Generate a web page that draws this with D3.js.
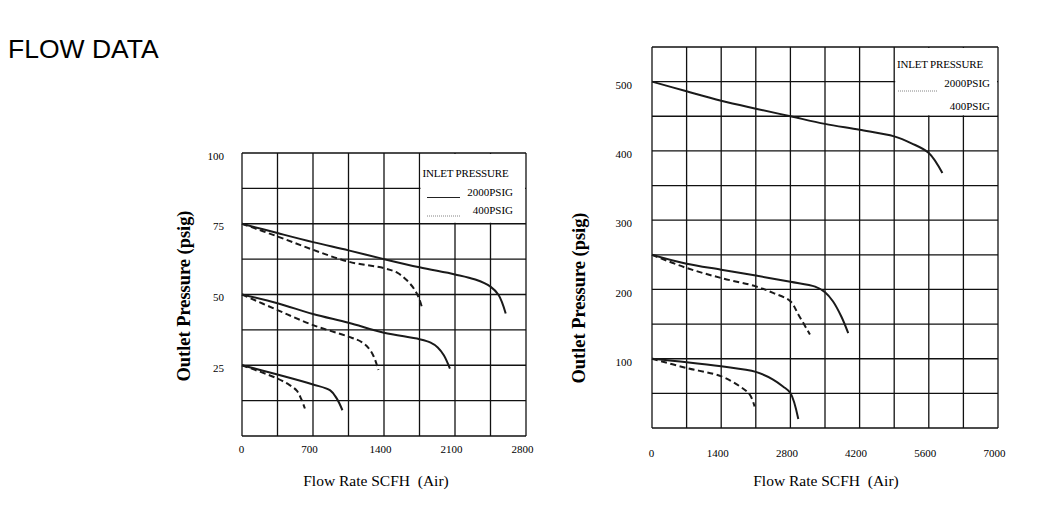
<!DOCTYPE html>
<html>
<head>
<meta charset="utf-8">
<script src="https://cdn.jsdelivr.net/npm/d3@7"></script>
<style>
  html, body { margin: 0; padding: 0; background: #fff; }
  svg { display: block; }
  text { font-family: "Liberation Serif", "Times New Roman", serif; fill: #000; }
</style>
</head>
<body>
<svg id="chart" width="1051" height="523"></svg>
<script>
// ---------- DATA ----------
const title = "FLOW DATA";
const yTitle = "Outlet Pressure (psig)";
const xTitle = "Flow Rate SCFH  (Air)";

// Left chart (low pressure)
const leftXTicks = [0, 700, 1400, 2100, 2800];
const leftYTicks = [25, 50, 75, 100];
const leftSolid75 = [[0,75],[350,71.7],[700,68.5],[1050,65.6],[1400,62.5],[1750,59.6],[2100,57.1],[2300,55.3],[2450,52.8],[2530,49.8],[2600,43.3]];
const leftDashed75 = [[0,75],[350,70.5],[700,65.8],[1050,61.6],[1400,59.3],[1530,57.7],[1620,55.2],[1700,51.8],[1750,48.2],[1780,44.7]];
const leftSolid50 = [[0,50],[350,46.9],[700,43.1],[1050,40],[1400,36.5],[1750,34.2],[1860,33],[1930,31.3],[1990,28.5],[2050,23.8]];
const leftDashed50 = [[0,50],[350,44.5],[700,39.2],[1050,35.1],[1180,33.2],[1250,31],[1300,28],[1345,23.3]];
const leftSolid25 = [[0,25],[350,21.7],[700,18.2],[870,16.1],[935,13.2],[990,9.1]];
const leftDashed25 = [[0,25],[350,20.3],[470,18],[540,16],[585,13],[620,9.7]];

// Right chart (high pressure)
const rightXTicks = [0, 1400, 2800, 4200, 5600, 7000];
const rightYTicks = [100, 200, 300, 400, 500];
const rightSolid500 = [[0,500],[700,486],[1400,472.5],[2100,461],[2800,450],[3500,439],[4200,430.5],[4900,421],[5250,411],[5600,397],[5875,368]];
const rightSolid250 = [[0,250],[700,237],[1400,228.5],[2100,220],[2800,211],[3300,204],[3500,196],[3660,183],[3830,161],[3970,137]];
const rightDashed250 = [[0,250],[700,231],[1400,216.5],[2100,204.5],[2450,195],[2800,183],[2960,164],[3195,135]];
const rightSolid100 = [[0,100],[700,95],[1400,89],[2100,81],[2450,70],[2650,60],[2800,50.5],[2960,13]];
const rightDashed100 = [[0,100],[700,86.6],[1400,74.6],[1780,60],[1980,48],[2075,31]];

const legendHeader = "INLET PRESSURE";
const legendHigh = "2000PSIG";
const legendLow = "400PSIG";

// ---------- DRAW ----------
const svg = d3.select("#chart");

svg.append("text")
  .attr("x", 8).attr("y", 57.5)
  .style("font-family", "'Liberation Sans', Arial, sans-serif")
  .style("font-size", "26.5px")
  .text(title);

function drawChart(cfg) {
  const x = d3.scaleLinear().domain(cfg.xDomain).range(cfg.xRange);
  const y = d3.scaleLinear().domain(cfg.yDomain).range(cfg.yRange);
  const g = svg.append("g");

  const gridColor = "#111";
  g.selectAll(".vg").data(cfg.xGrid).join("line")
    .attr("x1", d => x(d)).attr("x2", d => x(d))
    .attr("y1", y(cfg.yDomain[0])).attr("y2", y(cfg.yDomain[1]))
    .attr("stroke", gridColor).attr("stroke-width", 1.3);
  g.selectAll(".hg").data(cfg.yGrid).join("line")
    .attr("x1", x(cfg.xDomain[0])).attr("x2", x(cfg.xDomain[1]))
    .attr("y1", d => y(d)).attr("y2", d => y(d))
    .attr("stroke", gridColor).attr("stroke-width", 1.3);

  const bx0 = x(cfg.legendBox[0]), bx1 = x(cfg.legendBox[1]);
  const by0 = y(cfg.legendBox[3]), by1 = y(cfg.legendBox[2]);
  g.append("rect")
    .attr("x", bx0 + 1).attr("y", by0 + 1)
    .attr("width", bx1 - bx0 - 2).attr("height", by1 - by0 - 2)
    .attr("fill", "#fff");

  const xAxis = d3.axisBottom(x).tickValues(cfg.xTicks).tickSize(0).tickPadding(0)
    .tickFormat(d3.format("d"));
  const xa = g.append("g").attr("transform", `translate(0,${cfg.xLabelY})`).call(xAxis);
  xa.select(".domain").remove();
  xa.selectAll("text")
    .attr("dy", 0).attr("y", 0)
    .attr("dx", d => d === 0 ? -1 : -4)
    .style("font-family", "'Liberation Serif', 'Times New Roman', serif")
    .style("font-size", "11px").attr("fill", "#000");

  const yAxis = d3.axisLeft(y).tickValues(cfg.yTicks).tickSize(0).tickPadding(0)
    .tickFormat(d3.format("d"));
  const ya = g.append("g").attr("transform", `translate(${cfg.yLabelX},0)`).call(yAxis);
  ya.select(".domain").remove();
  ya.selectAll("text")
    .attr("x", 0).attr("dy", cfg.yLabelDy)
    .style("font-family", "'Liberation Serif', 'Times New Roman', serif")
    .style("font-size", "11px").attr("fill", "#000");

  const line = d3.line().x(d => x(d[0])).y(d => y(d[1])).curve(d3.curveCatmullRom.alpha(0.5));
  cfg.series.forEach(s => {
    g.append("path")
      .datum(s.data)
      .attr("d", line)
      .attr("fill", "none")
      .attr("stroke", "#1a1a1a")
      .attr("stroke-width", 2)
      .attr("stroke-dasharray", s.dashed ? "6,3.5" : null);
  });

  g.append("text")
    .attr("transform", `translate(${cfg.yTitlePos[0]},${cfg.yTitlePos[1]}) rotate(-90)`)
    .attr("text-anchor", "middle")
    .style("font-weight", "bold")
    .style("font-size", "18.4px")
    .text(yTitle);
  g.append("text")
    .attr("x", cfg.xTitlePos[0]).attr("y", cfg.xTitlePos[1])
    .attr("text-anchor", "middle")
    .style("font-size", "15.5px")
    .style("white-space", "pre")
    .attr("xml:space", "preserve")
    .text(xTitle);

  const L = cfg.legend;
  g.append("text").attr("x", L.headerX).attr("y", L.headerY)
    .style("font-size", "11px").style("letter-spacing", "-0.2px").text(legendHeader);
  g.append("text").attr("x", L.textEnd).attr("y", L.highY).attr("text-anchor", "end")
    .style("font-size", "11px").text(legendHigh);
  g.append("text").attr("x", L.textEnd).attr("y", L.lowY).attr("text-anchor", "end")
    .style("font-size", "11px").text(legendLow);
  L.samples.forEach(s => {
    g.append("line")
      .attr("x1", s.x1).attr("x2", s.x2).attr("y1", s.y).attr("y2", s.y)
      .attr("stroke", s.dotted ? "#777" : "#222")
      .attr("stroke-width", s.dotted ? 0.9 : 1)
      .attr("stroke-dasharray", s.dotted ? "1,1" : null);
  });
}

drawChart({
  xDomain: [0, 2800], xRange: [242, 526],
  yDomain: [0, 100], yRange: [436, 153],
  xGrid: d3.range(0, 2801, 350),
  yGrid: d3.range(0, 101, 12.5),
  xTicks: leftXTicks, yTicks: leftYTicks,
  xLabelY: 453, yLabelX: 224, yLabelDy: "0.55em",
  legendBox: [1750, 2800, 75, 100],
  series: [
    {data: leftSolid75, dashed: false}, {data: leftDashed75, dashed: true},
    {data: leftSolid50, dashed: false}, {data: leftDashed50, dashed: true},
    {data: leftSolid25, dashed: false}, {data: leftDashed25, dashed: true}
  ],
  yTitlePos: [190, 296],
  xTitlePos: [376, 486],
  legend: {
    headerX: 422.5, headerY: 177, textEnd: 513, highY: 195.5, lowY: 214,
    samples: [{x1: 427, x2: 460, y: 197.5, dotted: false}, {x1: 427, x2: 460, y: 216, dotted: true}]
  }
});

drawChart({
  xDomain: [0, 7000], xRange: [652, 998],
  yDomain: [0, 550], yRange: [428, 47],
  xGrid: d3.range(0, 7001, 700),
  yGrid: d3.range(0, 551, 50),
  xTicks: rightXTicks, yTicks: rightYTicks,
  xLabelY: 457, yLabelX: 632, yLabelDy: "0.6em",
  legendBox: [4900, 7000, 450, 550],
  series: [
    {data: rightSolid500, dashed: false},
    {data: rightSolid250, dashed: false}, {data: rightDashed250, dashed: true},
    {data: rightSolid100, dashed: false}, {data: rightDashed100, dashed: true}
  ],
  yTitlePos: [585, 298],
  xTitlePos: [826, 486],
  legend: {
    headerX: 897, headerY: 67.5, textEnd: 990, highY: 87, lowY: 110,
    samples: [{x1: 898, x2: 937, y: 91, dotted: true}]
  }
});
</script>
</body>
</html>
